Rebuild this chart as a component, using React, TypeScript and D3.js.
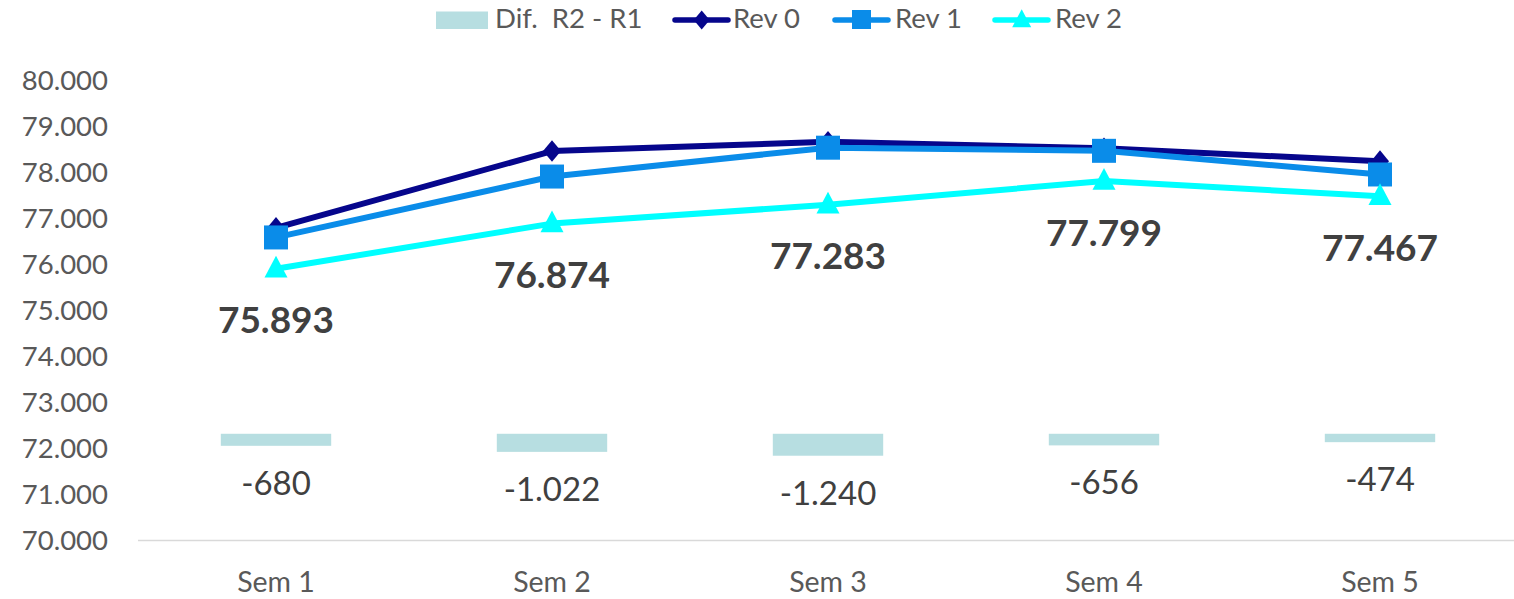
import React from "react";
import * as d3 from "d3";

const categories = ["Sem 1", "Sem 2", "Sem 3", "Sem 4", "Sem 5"];
const rev0 = [76780, 78450, 78650, 78510, 78230];
const rev1 = [76573, 77896, 78523, 78455, 77941];
const rev2 = [75893, 76874, 77283, 77799, 77467];
const dif = [-680, -1022, -1240, -656, -474];
const yTicks = [70000, 71000, 72000, 73000, 74000, 75000, 76000, 77000, 78000, 79000, 80000];

const W = 1514;
const H = 599;
const FONT = "Lato, 'Open Sans', sans-serif";
const C_REV0 = "#06068C";
const C_REV1 = "#0A8CE9";
const C_REV2 = "#00FFFF";
const C_BAR = "#B7DEE1";

const fmt = (v: number) => {
  const s = Math.abs(v).toString().replace(/\B(?=(\d{3})+(?!\d))/g, ".");
  return (v < 0 ? "-" : "") + s;
};
const fmtTick = (v: number) => {
  const k = Math.floor(v / 1000);
  return `${k}.000`;
};

function Diamond({ x, y, r, fill }: { x: number; y: number; r: number; fill: string }) {
  return <path d={`M${x},${y - r * 1.2}L${x + r},${y}L${x},${y + r * 1.2}L${x - r},${y}Z`} fill={fill} />;
}
function Square({ x, y, s, fill }: { x: number; y: number; s: number; fill: string }) {
  return <rect x={x - s / 2} y={y - s / 2} width={s} height={s} fill={fill} />;
}
function Triangle({ x, y, s, fill }: { x: number; y: number; s: number; fill: string }) {
  const h = s * 0.95;
  return <path d={`M${x},${y - h * 0.6}L${x + s / 2},${y + h * 0.4}L${x - s / 2},${y + h * 0.4}Z`} fill={fill} />;
}

export default function App() {
  const left = 138;
  const right = 1518;
  const x = d3.scaleBand<string>().domain(categories).range([left, right]).paddingInner(0).paddingOuter(0);
  const cx = (c: string) => (x(c) as number) + x.bandwidth() / 2;
  const y = d3.scaleLinear().domain([70000, 80000]).range([540, 79.7]);
  const y2 = d3.scaleLinear().domain([-6000, 20000]).range([540, 79.7]);
  const barW = x.bandwidth() * 0.4;

  const line = d3
    .line<number>()
    .x((_, i) => cx(categories[i]))
    .y((d) => y(d));

  return (
    <div style={{ position: "absolute", left: 0, top: 0 }}>
      <svg width={W} height={H} style={{ display: "block", background: "#fff" }} fontFamily={FONT}>
        {/* Legend */}
        <g>
          <rect x={436} y={11.5} width={52} height={17.5} fill={C_BAR} />
          <text x={495} y={28.3} fontSize={27.5} fill="#595959" style={{ whiteSpace: "pre" }}>
            {"Dif.  R2 - R1"}
          </text>
          <line x1={675} x2={728} y1={20} y2={20} stroke={C_REV0} strokeWidth={5.5} strokeLinecap="round" />
          <Diamond x={701.7} y={20} r={8} fill={C_REV0} />
          <text x={733} y={28.3} fontSize={27.5} fill="#595959">Rev 0</text>
          <line x1={835} x2={888} y1={20} y2={20} stroke={C_REV1} strokeWidth={5.5} strokeLinecap="round" />
          <Square x={861.5} y={19.5} s={19} fill={C_REV1} />
          <text x={895} y={28.3} fontSize={27.5} fill="#595959">Rev 1</text>
          <line x1={995} x2={1048} y1={20} y2={20} stroke={C_REV2} strokeWidth={5.5} strokeLinecap="round" />
          <Triangle x={1021.7} y={20} s={19} fill={C_REV2} />
          <text x={1055} y={28.3} fontSize={27.5} fill="#595959">Rev 2</text>
        </g>

        {/* Y axis labels */}
        {yTicks.map((t) => (
          <text key={t} x={108} y={y(t) + 9.8} textAnchor="end" fontSize={27.5} fill="#595959">
            {fmtTick(t)}
          </text>
        ))}

        {/* X axis line */}
        <line x1={left} x2={right} y1={540.5} y2={540.5} stroke="#D9D9D9" strokeWidth={1.5} />

        {/* X labels */}
        {categories.map((c) => (
          <text key={c} x={cx(c)} y={592.3} textAnchor="middle" fontSize={28.5} fill="#595959">
            {c}
          </text>
        ))}

        {/* Bars (secondary axis) */}
        {dif.map((v, i) => {
          const c = categories[i];
          const y0 = y2(0);
          const y1 = y2(v);
          return (
            <g key={c}>
              <rect x={cx(c) - barW / 2} y={Math.min(y0, y1)} width={barW} height={Math.abs(y1 - y0)} fill={C_BAR} />
              <text x={cx(c)} y={y1 + 49} textAnchor="middle" fontSize={33} fill="#404040">
                {fmt(v)}
              </text>
            </g>
          );
        })}

        {/* Lines */}
        <path d={line(rev0) || ""} fill="none" stroke={C_REV0} strokeWidth={6} strokeLinejoin="round" />
        {rev0.map((v, i) => (
          <Diamond key={i} x={cx(categories[i])} y={y(v)} r={9} fill={C_REV0} />
        ))}
        <path d={line(rev1) || ""} fill="none" stroke={C_REV1} strokeWidth={6} strokeLinejoin="round" />
        {rev1.map((v, i) => (
          <Square key={i} x={cx(categories[i])} y={y(v)} s={24} fill={C_REV1} />
        ))}
        <path d={line(rev2) || ""} fill="none" stroke={C_REV2} strokeWidth={6} strokeLinejoin="round" />
        {rev2.map((v, i) => (
          <Triangle key={i} x={cx(categories[i])} y={y(v)} s={23} fill={C_REV2} />
        ))}

        {/* Rev2 value labels */}
        {rev2.map((v, i) => (
          <text
            key={i}
            x={cx(categories[i])}
            y={y(v) + 64.5}
            textAnchor="middle"
            fontSize={37}
            fontWeight="bold"
            fill="#404040"
          >
            {fmt(v)}
          </text>
        ))}
      </svg>
    </div>
  );
}
